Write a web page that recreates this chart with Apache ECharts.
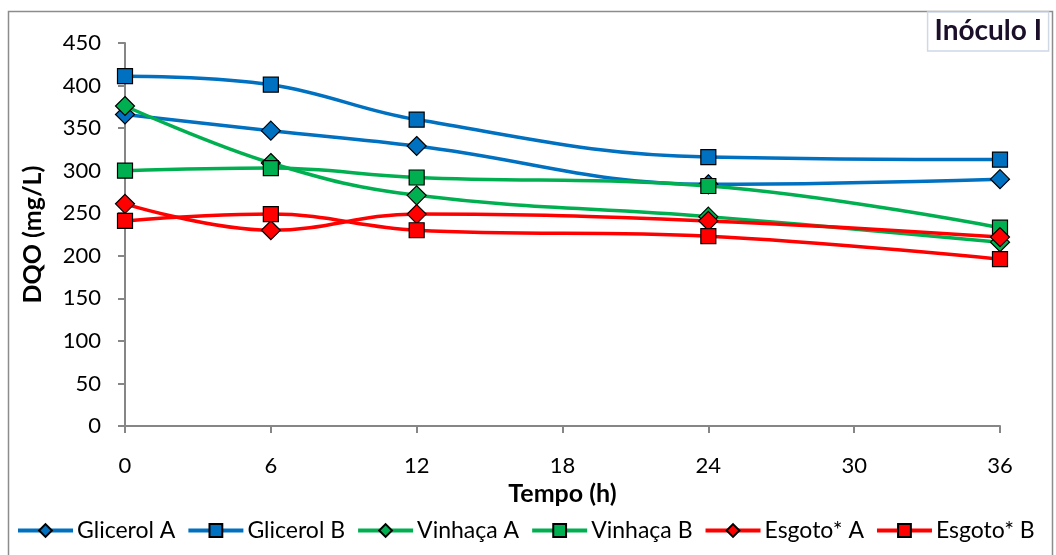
<!DOCTYPE html>
<html>
<head>
<meta charset="utf-8">
<script src="https://cdn.jsdelivr.net/npm/echarts@6/dist/echarts.min.js"></script>
<style>
  html, body { margin: 0; padding: 0; background: #fff; }
  #chart { width: 1056px; height: 555px; }
</style>
</head>
<body>
<div id="chart"></div>
<script>
// Sampling times (h)
const hours = [0, 6, 12, 24, 36];

// DQO (mg/L) per treatment
const glicerolA = [366, 347, 329, 284, 290];
const glicerolB = [411, 401, 360, 316, 313];
const vinhacaA  = [376, 309, 271, 246, 216];
const vinhacaB  = [300, 303, 292, 282, 233];
const esgotoA   = [261, 230, 249, 241, 222];
const esgotoB   = [241, 249, 230, 223, 196];

const seriesNames = ['Glicerol A', 'Glicerol B', 'Vinhaça A', 'Vinhaça B', 'Esgoto* A', 'Esgoto* B'];
const seriesValues = [glicerolA, glicerolB, vinhacaA, vinhacaB, esgotoA, esgotoB];
const seriesColors = ['#0070C0', '#0070C0', '#00B050', '#00B050', '#FF0000', '#FF0000'];
const seriesSymbols = ['diamond', 'rect', 'diamond', 'rect', 'diamond', 'rect'];

const FONT = 'Lato, "Open Sans", sans-serif';

const chart = echarts.init(document.getElementById('chart'), null, { renderer: 'canvas' });

const series = seriesNames.map((name, i) => ({
  name,
  type: 'line',
  smooth: 0.4,
  data: hours.map((h, k) => [h, seriesValues[i][k]]),
  symbol: seriesSymbols[i],
  symbolSize: seriesSymbols[i] === 'diamond' ? 19 : 15,
  lineStyle: { color: seriesColors[i], width: 3.5 },
  itemStyle: { color: seriesColors[i], borderColor: '#000', borderWidth: 1.2 },
  emphasis: { disabled: true },
  z: 2 + i
}));

chart.setOption({
  animation: false,
  backgroundColor: '#fff',
  title: {
    text: 'Inóculo I',
    right: 7,
    top: 12,
    padding: [5, 7, 6, 7],
    borderColor: '#d0d8e6',
    borderWidth: 1.5,
    backgroundColor: '#fff',
    textStyle: { fontFamily: FONT, fontWeight: 'bold', fontSize: 28, color: '#1c0f2a' }
  },
  grid: { left: 125, right: 56, top: 43, bottom: 129, containLabel: false },
  xAxis: {
    type: 'value',
    min: 0, max: 36, interval: 6,
    name: 'Tempo (h)',
    nameLocation: 'middle',
    nameGap: 55,
    nameTextStyle: { fontFamily: FONT, fontWeight: 'bold', fontSize: 25, color: '#000' },
    axisLine: { lineStyle: { color: '#868686', width: 2 } },
    axisTick: { show: true, inside: false, length: 7, lineStyle: { color: '#868686', width: 2 } },
    axisLabel: { fontFamily: FONT, fontSize: 22, color: '#000', margin: 29 },
    splitLine: { show: false }
  },
  yAxis: {
    type: 'value',
    min: 0, max: 450, interval: 50,
    name: 'DQO (mg/L)',
    nameLocation: 'middle',
    nameGap: 80,
    nameRotate: 90,
    nameTextStyle: { fontFamily: FONT, fontWeight: 'bold', fontSize: 25, color: '#000' },
    axisLine: { show: true, lineStyle: { color: '#868686', width: 2 } },
    axisTick: { show: true, inside: false, length: 7, lineStyle: { color: '#868686', width: 2 } },
    axisLabel: { fontFamily: FONT, fontSize: 22, color: '#000', margin: 24 },
    splitLine: { show: false }
  },
  legend: {
    data: seriesNames,
    left: 16,
    top: 519,
    width: 1038,
    padding: 0,
    itemWidth: 55,
    itemHeight: 16,
    itemGap: 11,
    lineStyle: { width: 4 },
    textStyle: { fontFamily: FONT, fontSize: 23, color: '#000', padding: [0, 0, 0, -1] },
    selectedMode: false
  },
  graphic: [{
    type: 'rect',
    shape: { x: 8.5, y: 11.5, width: 1044, height: 560 },
    style: { fill: 'none', stroke: '#8c8c8c', lineWidth: 1.5 },
    z: -1,
    silent: true
  }],
  series
});
</script>
</body>
</html>
